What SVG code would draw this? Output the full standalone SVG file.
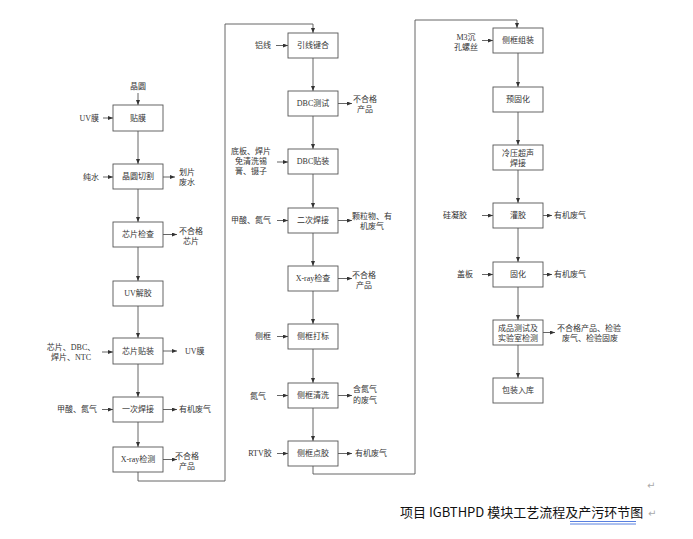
<svg xmlns="http://www.w3.org/2000/svg" width="693" height="539" viewBox="0 0 693 539">
<style>
.bg{fill:#fff}
.box{fill:#fff;stroke:#555;stroke-width:0.9}
.ln{fill:none;stroke:#555;stroke-width:0.9}
.t{font-family:"Liberation Serif","Noto Sans CJK SC",serif;font-size:8px;fill:#333;dominant-baseline:central}
.c{text-anchor:middle}
.e{text-anchor:end}
.cap{font-family:"Noto Sans CJK SC","Noto Sans",sans-serif;font-size:13px;fill:#111}
.pm{font-family:"Noto Sans","DejaVu Sans",sans-serif;font-size:10px;fill:#aaa}
</style>
<defs>
<marker id="ah" markerWidth="5" markerHeight="4" refX="5" refY="2" orient="auto" markerUnits="userSpaceOnUse">
<path d="M0,0 L5,2 L0,4 z" fill="#333"/>
</marker>
</defs>
<rect class="bg" x="0" y="0" width="693" height="539"/>

<g id="connectors">
<!-- left column -->
<path class="ln" d="M138,93 V105" marker-end="url(#ah)"/>
<path class="ln" d="M103,118 H113" marker-end="url(#ah)"/>
<path class="ln" d="M138,131 V164" marker-end="url(#ah)"/>
<path class="ln" d="M103,177 H113" marker-end="url(#ah)"/>
<path class="ln" d="M163,177 H175" marker-end="url(#ah)"/>
<path class="ln" d="M138,189 V222" marker-end="url(#ah)"/>
<path class="ln" d="M163,234.5 H177" marker-end="url(#ah)"/>
<path class="ln" d="M138,247 V281" marker-end="url(#ah)"/>
<path class="ln" d="M138,306 V338" marker-end="url(#ah)"/>
<path class="ln" d="M102,352 H113" marker-end="url(#ah)"/>
<path class="ln" d="M163,351 H177" marker-end="url(#ah)"/>
<path class="ln" d="M138,364 V397" marker-end="url(#ah)"/>
<path class="ln" d="M102,409.5 H113" marker-end="url(#ah)"/>
<path class="ln" d="M163,409.5 H177" marker-end="url(#ah)"/>
<path class="ln" d="M138,422 V447" marker-end="url(#ah)"/>
<path class="ln" d="M163,459.5 H177" marker-end="url(#ah)"/>
<path class="ln" d="M138,472 V481 H225 V24 H313 V33" marker-end="url(#ah)"/>
<!-- middle column -->
<path class="ln" d="M276,45.5 H288" marker-end="url(#ah)"/>
<path class="ln" d="M313,58 V91" marker-end="url(#ah)"/>
<path class="ln" d="M338,103.5 H352" marker-end="url(#ah)"/>
<path class="ln" d="M313,116 V149" marker-end="url(#ah)"/>
<path class="ln" d="M277,162 H288" marker-end="url(#ah)"/>
<path class="ln" d="M313,174 V208" marker-end="url(#ah)"/>
<path class="ln" d="M277,220.5 H288" marker-end="url(#ah)"/>
<path class="ln" d="M338,220.5 H352" marker-end="url(#ah)"/>
<path class="ln" d="M313,233 V266" marker-end="url(#ah)"/>
<path class="ln" d="M338,278.5 H352" marker-end="url(#ah)"/>
<path class="ln" d="M313,291 V324" marker-end="url(#ah)"/>
<path class="ln" d="M277,336.5 H288" marker-end="url(#ah)"/>
<path class="ln" d="M313,349 V383" marker-end="url(#ah)"/>
<path class="ln" d="M277,395.5 H288" marker-end="url(#ah)"/>
<path class="ln" d="M338,395.5 H352" marker-end="url(#ah)"/>
<path class="ln" d="M313,408 V441" marker-end="url(#ah)"/>
<path class="ln" d="M277,453.5 H288" marker-end="url(#ah)"/>
<path class="ln" d="M338,453.5 H352" marker-end="url(#ah)"/>
<path class="ln" d="M313,466 V474 H415 V20 H517 V28" marker-end="url(#ah)"/>
<!-- right column -->
<path class="ln" d="M482,40.5 H493" marker-end="url(#ah)"/>
<path class="ln" d="M518,53 V87" marker-end="url(#ah)"/>
<path class="ln" d="M518,112 V145" marker-end="url(#ah)"/>
<path class="ln" d="M518,170 V203" marker-end="url(#ah)"/>
<path class="ln" d="M482,215.5 H493" marker-end="url(#ah)"/>
<path class="ln" d="M543,215.5 H552" marker-end="url(#ah)"/>
<path class="ln" d="M518,228 V262" marker-end="url(#ah)"/>
<path class="ln" d="M482,274.5 H493" marker-end="url(#ah)"/>
<path class="ln" d="M543,274.5 H552" marker-end="url(#ah)"/>
<path class="ln" d="M518,287 V320" marker-end="url(#ah)"/>
<path class="ln" d="M543,332.5 H555" marker-end="url(#ah)"/>
<path class="ln" d="M518,345 V378" marker-end="url(#ah)"/>
</g>

<!-- left column nodes -->
<g id="n_tiemo"><rect class="box" x="113" y="105" width="50" height="26"/><text class="t c" x="138" y="118">贴膜</text></g>
<g id="n_qiege"><rect class="box" x="113" y="164" width="50" height="25"/><text class="t c" x="138" y="176.5">晶圆切割</text></g>
<g id="n_jiancha"><rect class="box" x="113" y="222" width="50" height="25"/><text class="t c" x="138" y="234.5">芯片检查</text></g>
<g id="n_uvjiejiao"><rect class="box" x="113" y="281" width="50" height="25"/><text class="t c" x="138" y="293.5">UV解胶</text></g>
<g id="n_tiezhuang"><rect class="box" x="113" y="338" width="50" height="26"/><text class="t c" x="138" y="351">芯片贴装</text></g>
<g id="n_yici"><rect class="box" x="113" y="397" width="50" height="25"/><text class="t c" x="138" y="409.5">一次焊接</text></g>
<g id="n_xray1"><rect class="box" x="113" y="447" width="50" height="25"/><text class="t c" x="138" y="459.5">X-ray检测</text></g>

<!-- middle column nodes -->
<g id="n_yinxian"><rect class="box" x="288" y="33" width="50" height="25"/><text class="t c" x="313" y="45.5">引线键合</text></g>
<g id="n_dbcceshi"><rect class="box" x="288" y="91" width="50" height="25"/><text class="t c" x="313" y="103.5">DBC测试</text></g>
<g id="n_dbctie"><rect class="box" x="288" y="149" width="50" height="25"/><text class="t c" x="313" y="161.5">DBC贴装</text></g>
<g id="n_erci"><rect class="box" x="288" y="208" width="50" height="25"/><text class="t c" x="313" y="220.5">二次焊接</text></g>
<g id="n_xray2"><rect class="box" x="288" y="266" width="50" height="25"/><text class="t c" x="313" y="278.5">X-ray检查</text></g>
<g id="n_dabiao"><rect class="box" x="288" y="324" width="50" height="25"/><text class="t c" x="313" y="336.5">侧框打标</text></g>
<g id="n_qingxi"><rect class="box" x="288" y="383" width="50" height="25"/><text class="t c" x="313" y="395.5">侧框清洗</text></g>
<g id="n_dianjiao"><rect class="box" x="288" y="441" width="50" height="25"/><text class="t c" x="313" y="453.5">侧框点胶</text></g>

<!-- right column nodes -->
<g id="n_zuzhuang"><rect class="box" x="493" y="28" width="50" height="25"/><text class="t c" x="518" y="40.5">侧框组装</text></g>
<g id="n_yuguhua"><rect class="box" x="493" y="87" width="50" height="25"/><text class="t c" x="518" y="99.5">预固化</text></g>
<g id="n_lengya"><rect class="box" x="493" y="145" width="50" height="25"/><text class="t c" x="518" y="153">冷压超声</text><text class="t c" x="518" y="163">焊接</text></g>
<g id="n_guanjiao"><rect class="box" x="493" y="203" width="50" height="25"/><text class="t c" x="518" y="215.5">灌胶</text></g>
<g id="n_guhua"><rect class="box" x="493" y="262" width="50" height="25"/><text class="t c" x="518" y="274.5">固化</text></g>
<g id="n_ceshi"><rect class="box" x="493" y="320" width="50" height="25"/><text class="t c" x="518" y="328">成品测试及</text><text class="t c" x="518" y="338">实验室检测</text></g>
<g id="n_baozhuang"><rect class="box" x="493" y="378" width="50" height="25"/><text class="t c" x="518" y="390.5">包装入库</text></g>

<!-- side labels -->
<g id="labels">
<text class="t c" x="138" y="86">晶圆</text>
<text class="t e" x="99" y="118">UV膜</text>
<text class="t e" x="99" y="177">纯水</text>
<text class="t" x="179" y="172">划片</text>
<text class="t" x="179" y="182">废水</text>
<text class="t c" x="191" y="231">不合格</text>
<text class="t c" x="191" y="241">芯片</text>
<text class="t c" x="71" y="347">芯片、DBC、</text>
<text class="t c" x="71" y="357">焊片、NTC</text>
<text class="t" x="185" y="351">UV膜</text>
<text class="t e" x="97" y="409.5">甲酸、氮气</text>
<text class="t" x="179" y="409.5">有机废气</text>
<text class="t c" x="187" y="456">不合格</text>
<text class="t c" x="187" y="466">产品</text>

<text class="t e" x="271" y="45.5">铝线</text>
<text class="t c" x="365" y="99">不合格</text>
<text class="t c" x="365" y="109">产品</text>
<text class="t c" x="251" y="151">底板、焊片</text>
<text class="t c" x="251" y="161">免清洗锡</text>
<text class="t c" x="251" y="171">膏、镊子</text>
<text class="t c" x="251" y="220.5">甲酸、氮气</text>
<text class="t c" x="372" y="216">颗粒物、有</text>
<text class="t c" x="372" y="226">机废气</text>
<text class="t c" x="364" y="275">不合格</text>
<text class="t c" x="364" y="285">产品</text>
<text class="t c" x="263" y="336.5">侧框</text>
<text class="t c" x="258" y="396">氮气</text>
<text class="t c" x="365" y="389">含氮气</text>
<text class="t c" x="365" y="400">的废气</text>
<text class="t c" x="260" y="453.5">RTV胶</text>
<text class="t" x="355" y="453.5">有机废气</text>

<text class="t c" x="466" y="37">M3沉</text>
<text class="t c" x="466" y="47">孔螺丝</text>
<text class="t c" x="455" y="215.5">硅凝胶</text>
<text class="t" x="554" y="215.5">有机废气</text>
<text class="t c" x="465" y="274.5">盖板</text>
<text class="t" x="554" y="274.5">有机废气</text>
<text class="t" x="557" y="328">不合格产品、检验</text>
<text class="t c" x="590" y="338">废气、检验固废</text>
</g>

<g id="caption">
<text class="pm" x="647" y="489">↵</text>
<text class="cap" x="400" y="517">项目 IGBTHPD 模块工艺流程及产污环节图</text>
<text class="pm" x="648" y="517">↵</text>
<path d="M570,521.5 H636 M570,524 H636" fill="none" stroke="#2e5fd8" stroke-width="0.8"/>
</g>
</svg>
